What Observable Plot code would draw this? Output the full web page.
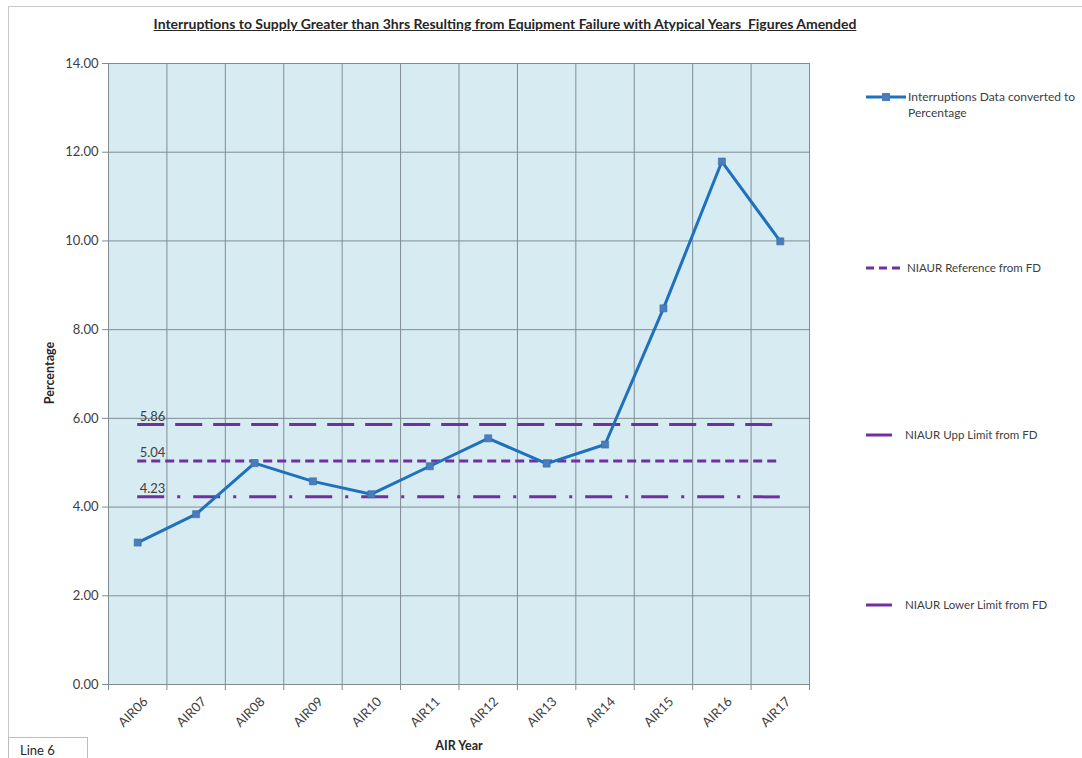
<!DOCTYPE html>
<html>
<head>
<meta charset="utf-8">
<script src="https://cdn.jsdelivr.net/npm/d3@7"></script>
<script src="https://cdn.jsdelivr.net/npm/@observablehq/plot@0.6"></script>
<style>
  html, body { margin: 0; padding: 0; background: #fff; }
  body { font-family: Lato, "Open Sans", "Liberation Sans", sans-serif; color: #404040; }
  #wrap { position: relative; width: 1082px; height: 758px; overflow: hidden; }
  #border { position: absolute; left: 8px; top: 6px; width: 1090px; height: 800px;
            border-left: 1px solid #c9c9c9; border-top: 1px solid #c9c9c9; }
  #chart { position: absolute; left: 0; top: 0; }
  #title { position: absolute; left: 0; width: 1010px; top: 15px; text-align: center;
           font-weight: bold; font-size: 14px; text-decoration: underline; white-space: pre; color: #262626; }
  #ylab { position: absolute; left: 49px; top: 373px; transform: translate(-50%, -50%) rotate(-90deg);
          font-weight: bold; font-size: 12.5px; color: #262626; white-space: nowrap; }
  #xlab { position: absolute; left: 459px; top: 745px; transform: translate(-50%, -50%);
          font-weight: bold; font-size: 12.5px; color: #262626; white-space: nowrap; }
  #legend .item { position: absolute; left: 864px; font-size: 11.5px; line-height: 16px; white-space: nowrap; color: #404040; }
  #legend svg { position: absolute; left: 0; top: 0; overflow: visible; }
  #line6 { position: absolute; left: 8px; top: 737px; width: 80px; height: 24px; border: 1px solid #bdbdbd;
           box-sizing: border-box; font-size: 13px; padding: 4px 0 0 11px; background: #fff; color: #262626; }
</style>
</head>
<body>
<div id="wrap">
  <div id="border"></div>
  <div id="chart"></div>
  <div id="title"></div>
  <div id="ylab"></div>
  <div id="xlab"></div>
  <div id="legend"></div>
  <div id="line6">Line 6</div>
</div>
<script>
// ---- Data ----
const titleText = "Interruptions to Supply Greater than 3hrs Resulting from Equipment Failure with Atypical Years  Figures Amended";
const years = ["AIR06", "AIR07", "AIR08", "AIR09", "AIR10", "AIR11", "AIR12", "AIR13", "AIR14", "AIR15", "AIR16", "AIR17"];
const values = [3.20, 3.84, 4.99, 4.58, 4.29, 4.92, 5.55, 4.98, 5.41, 8.48, 11.79, 9.99];
const seriesName = "Interruptions Data converted to Percentage";
const refNames = ["NIAUR Reference from FD", "NIAUR Upp Limit from FD", "NIAUR Lower Limit from FD"];
const refValues = [5.04, 5.86, 4.23];
const yTicks = [0, 2, 4, 6, 8, 10, 12, 14];
const yLabel = "Percentage";
const xLabel = "AIR Year";

// ---- Styles ----
const purple = "#7030a0";
const blue = "#1f70bd";
const markerBlue = "#4a7dbb";
const gridColor = "#7f8d92";
const refDash = ["9,5", "27,11", "27,13,3,13"];

document.getElementById("title").textContent = titleText;
document.getElementById("ylab").textContent = yLabel;
document.getElementById("xlab").textContent = xLabel;

const data = years.map((year, i) => ({i, year, value: values[i]}));
const idx = years.map((_, i) => i);
const bounds = d3.range(years.length + 1).map(i => i - 0.5);

const refMarks = refValues.map((v, k) =>
  Plot.ruleY([v], {x1: 0, x2: years.length - 1, stroke: purple, strokeWidth: 3, strokeDasharray: refDash[k]})
);

const chart = Plot.plot({
  width: 1082,
  height: 758,
  marginLeft: 108,
  marginRight: 273,
  marginTop: 63,
  marginBottom: 74,
  style: {fontFamily: "Lato, 'Open Sans', sans-serif", fontSize: "13px", color: "#404040", background: "transparent"},
  x: {type: "linear", domain: [-0.5, years.length - 0.5]},
  y: {domain: [0, 14]},
  marks: [
    Plot.frame({fill: "#d7ebf3", stroke: null}),
    Plot.ruleX(bounds, {stroke: gridColor, strokeWidth: 1}),
    Plot.ruleY(yTicks, {stroke: gridColor, strokeWidth: 1}),
    Plot.axisY({ticks: yTicks, tickFormat: d3.format(".2f"), tickSize: 6, tickPadding: 4, label: null, stroke: gridColor, fill: "#404040", fontSize: 13}),
    Plot.axisX({ticks: bounds, tickFormat: () => "", tickSize: 6, label: null, stroke: gridColor}),
    Plot.axisX({ticks: idx, tickFormat: i => years[i], tickSize: 0, tickPadding: 15, tickRotate: -45, label: null, fill: "#404040", dx: 8, fontSize: 13}),
    ...refMarks,
    Plot.text(refValues, {x: 0, y: d => d, text: d => d.toFixed(2), textAnchor: "start", lineAnchor: "bottom", dy: -4, dx: 2, fontSize: 13, fill: "#404040"}),
    Plot.line(data, {x: "i", y: "value", stroke: blue, strokeWidth: 3, strokeLinejoin: "round"}),
    Plot.dot(data, {x: "i", y: "value", symbol: "square", r: 4, fill: markerBlue, stroke: "#3a6ea8", strokeWidth: 0.6})
  ]
});
document.getElementById("chart").appendChild(chart);

// ---- Legend ----
const legend = document.getElementById("legend");
const legendItems = [
  {name: seriesName, top: 89, kind: "series"},
  {name: refNames[0], top: 260, kind: "ref"},
  {name: refNames[1], top: 427, kind: "solid"},
  {name: refNames[2], top: 597, kind: "solid"}
];
legendItems.forEach(item => {
  const div = document.createElement("div");
  div.className = "item";
  div.style.top = item.top + "px";
  let icon;
  if (item.kind === "series") {
    icon = `<svg width="44" height="16"><line x1="2" y1="8" x2="42" y2="8" stroke="${blue}" stroke-width="3"/><rect x="18" y="4" width="8" height="8" fill="${markerBlue}"/></svg>`;
    div.innerHTML = icon + `<div style="position:absolute;left:44px;top:0;width:220px;white-space:normal;font-size:12px">${item.name.replace(" Percentage", "<br>Percentage")}</div>`;
  } else if (item.kind === "ref") {
    icon = `<svg width="42" height="16"><line x1="2" y1="8" x2="38" y2="8" stroke="${purple}" stroke-width="3" stroke-dasharray="8,5"/></svg>`;
    div.innerHTML = icon + `<div style="position:absolute;left:43px;top:0">${item.name}</div>`;
  } else {
    icon = `<svg width="42" height="16"><line x1="2" y1="8" x2="28" y2="8" stroke="${purple}" stroke-width="3"/></svg>`;
    div.innerHTML = icon + `<div style="position:absolute;left:41px;top:0">${item.name}</div>`;
  }
  legend.appendChild(div);
});
</script>
</body>
</html>
